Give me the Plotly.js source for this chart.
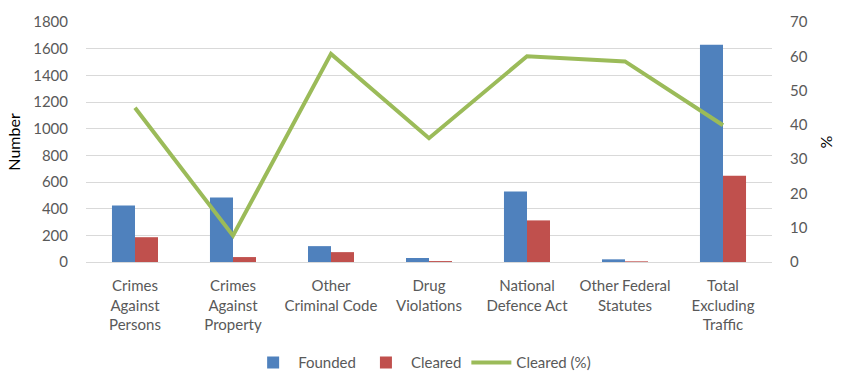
<!DOCTYPE html>
<html><head><meta charset="utf-8">
<script src="https://cdn.plot.ly/plotly-3.0.1.min.js"></script>
<style>html,body{margin:0;padding:0;background:#fff}#chart{width:843px;height:391px}</style>
</head><body><div id="chart"></div>
<script>
const categories = ["Crimes<br>Against<br>Persons","Crimes<br>Against<br>Property","Other<br>Criminal Code","Drug<br>Violations","National<br>Defence Act","Other Federal<br>Statutes","Total<br>Excluding<br>Traffic"];
const founded = [424, 484, 119, 30, 528, 20, 1629];
const cleared = [186, 37, 74, 7, 312, 5, 647];
const clearedPct = [45.0, 7.7, 60.7, 36.1, 60.0, 58.5, 39.9];
const leftTicks = [0,200,400,600,800,1000,1200,1400,1600,1800];
const rightTicks = [0,10,20,30,40,50,60,70];

const font = {family: "Lato, 'Open Sans', sans-serif", size: 15, color: "#595959"};
const traces = [
  {type:"bar", name:"Founded", x:categories, y:founded, marker:{color:"#4F81BD"}},
  {type:"bar", name:"Cleared", x:categories, y:cleared, marker:{color:"#C0504D"}},
  {type:"scatter", mode:"lines", name:"Cleared (%)", x:categories, y:clearedPct, yaxis:"y2", line:{color:"#9BBB59", width:4}}
];
const layout = {
  width:843, height:391,
  margin:{l:86, r:71, t:22, b:127},
  font: font,
  barmode:"group", bargap:0.53, bargroupgap:0,
  paper_bgcolor:"#fff", plot_bgcolor:"#fff",
  showlegend:true,
  legend:{orientation:"h", x:0.49, xanchor:"center", y:-0.42, yanchor:"middle", font:font, traceorder:"normal", itemwidth:40},
  xaxis:{type:"category", showgrid:false, showline:true, linecolor:"#D9D9D9", linewidth:1, ticks:"outside", ticklen:10, tickcolor:"rgba(0,0,0,0)", tickfont:font, tickangle:0},
  yaxis:{range:[0,1800], tickvals:leftTicks, showgrid:true, gridcolor:"#D9D9D9", zeroline:false, showline:false, ticks:"outside", ticklen:14, tickcolor:"rgba(0,0,0,0)", tickfont:font,
    title:{text:"Number", font:{family:font.family, size:16, color:"#000"}, standoff:8}},
  yaxis2:{range:[0,70], tickvals:rightTicks, overlaying:"y", side:"right", showgrid:false, zeroline:false, showline:false, ticks:"outside", ticklen:14, tickcolor:"rgba(0,0,0,0)", tickfont:font,
    title:{text:"%", font:{family:font.family, size:16, color:"#000"}, standoff:14}}
};
Plotly.newPlot("chart", traces, layout, {displayModeBar:false, staticPlot:true});
</script></body></html>
